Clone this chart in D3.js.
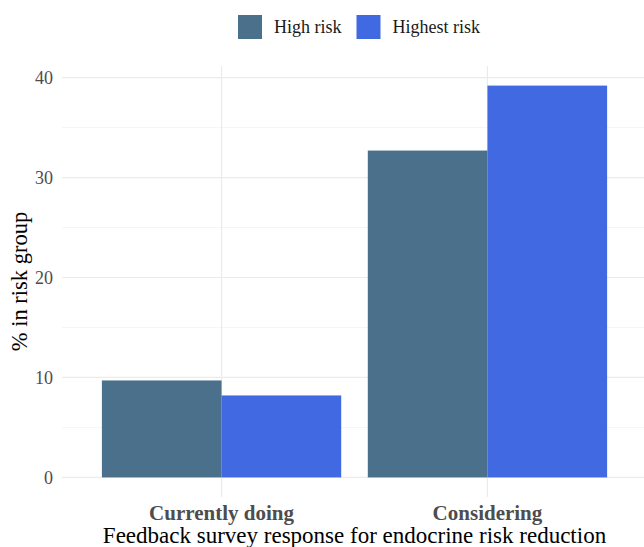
<!DOCTYPE html>
<html>
<head>
<meta charset="utf-8">
<script src="https://cdn.jsdelivr.net/npm/d3@7"></script>
<style>
html,body{margin:0;padding:0;background:#fff;}
svg{display:block;}
</style>
</head>
<body>
<svg id="chart" width="644" height="547"></svg>
<script>
const categories = ["Currently doing", "Considering"];
const seriesNames = ["High risk", "Highest risk"];
const highRisk = [9.7, 32.7];
const highestRisk = [8.2, 39.2];
const yTicks = [0, 10, 20, 30, 40];
const yMinorTicks = [5, 15, 25, 35];
const colors = ["#4A708B", "#4169E1"];

const svg = d3.select("#chart");
const font = "'Liberation Serif','Times New Roman',serif";
const panel = {left: 62, right: 647, top: 66, bottom: 497};

const seriesVals = [highRisk, highestRisk];
const yMax = d3.max(seriesVals.flat());
const pad = 0.05 * yMax;
const y = d3.scaleLinear().domain([-pad, yMax + pad]).range([panel.bottom, panel.top]);
const x = d3.scalePoint().domain(categories).range([panel.left, panel.right]).padding(0.6);
const step = x.step();
const xs = d3.scaleBand().domain(seriesNames).range([-0.45 * step, 0.45 * step]).padding(0);

// grid
const g = svg.append("g");
g.selectAll(".minor").data(yMinorTicks).enter().append("line")
  .attr("x1", panel.left).attr("x2", panel.right)
  .attr("y1", d => y(d)).attr("y2", d => y(d))
  .attr("stroke", "#F2F2F2").attr("stroke-width", 0.8);
g.selectAll(".major").data(yTicks).enter().append("line")
  .attr("x1", panel.left).attr("x2", panel.right)
  .attr("y1", d => y(d)).attr("y2", d => y(d))
  .attr("stroke", "#EBEBEB").attr("stroke-width", 1.2);
g.selectAll(".vmajor").data(categories).enter().append("line")
  .attr("x1", d => x(d)).attr("x2", d => x(d))
  .attr("y1", panel.top).attr("y2", panel.bottom)
  .attr("stroke", "#EBEBEB").attr("stroke-width", 1.2);

// bars
const data = [];
categories.forEach((c, i) => seriesNames.forEach((s, j) => data.push({c, s, v: seriesVals[j][i], j})));
svg.append("g").selectAll("rect").data(data).enter().append("rect")
  .attr("x", d => x(d.c) + xs(d.s))
  .attr("width", xs.bandwidth())
  .attr("y", d => y(d.v))
  .attr("height", d => y(0) - y(d.v))
  .attr("fill", d => colors[d.j]);

// y tick labels
svg.append("g").selectAll("text").data(yTicks).enter().append("text")
  .attr("x", 53).attr("y", d => y(d)).attr("dy", "0.35em")
  .attr("text-anchor", "end")
  .attr("font-family", font).attr("font-size", 18).attr("fill", "#4D4D4D")
  .text(d => d);

// x tick labels
svg.append("g").selectAll("text").data(categories).enter().append("text")
  .attr("x", d => x(d)).attr("y", 520)
  .attr("text-anchor", "middle")
  .attr("font-family", font).attr("font-size", 21).attr("font-weight", "bold").attr("fill", "#4D4D4D")
  .text(d => d);

// axis titles
svg.append("text")
  .attr("x", (panel.left + panel.right) / 2).attr("y", 543)
  .attr("text-anchor", "middle")
  .attr("font-family", font).attr("font-size", 23).attr("fill", "#000")
  .text("Feedback survey response for endocrine risk reduction");
svg.append("text")
  .attr("transform", `translate(27,${(panel.top + panel.bottom) / 2}) rotate(-90)`)
  .attr("text-anchor", "middle")
  .attr("font-family", font).attr("font-size", 22.5).attr("fill", "#000")
  .text("% in risk group");

// legend
const legendX = [238, 356.5];
const lg = svg.append("g");
seriesNames.forEach((s, i) => {
  lg.append("rect").attr("x", legendX[i]).attr("y", 15).attr("width", 24).attr("height", 24).attr("fill", colors[i]);
  lg.append("text").attr("x", legendX[i] + 36).attr("y", 33)
    .attr("font-family", font).attr("font-size", 18).attr("fill", "#1a1a1a")
    .text(s);
});
</script>
</body>
</html>
